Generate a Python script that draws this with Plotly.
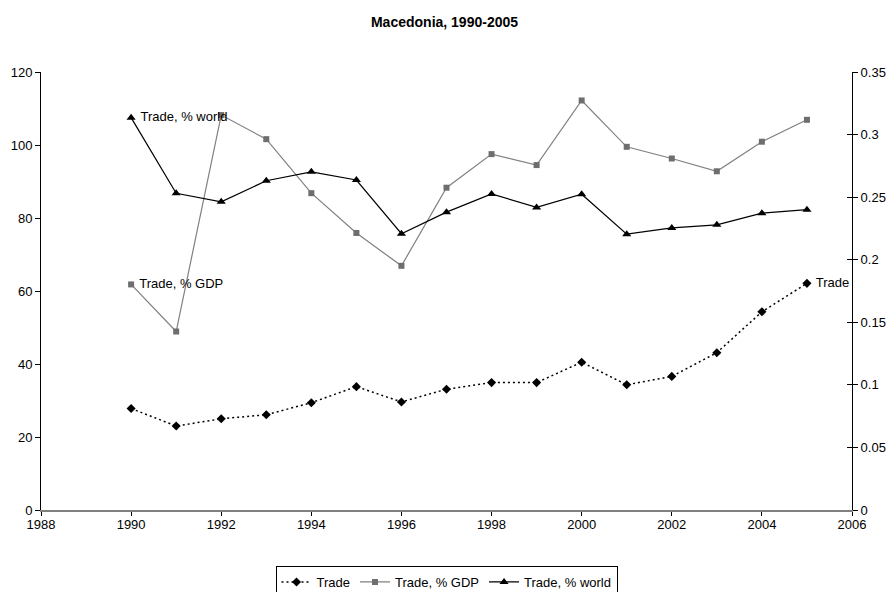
import plotly.graph_objects as go

# Macedonia trade indicators, 1990-2005
years = list(range(1990, 2006))
trade = [27.8, 23.0, 25.0, 26.1, 29.4, 33.8, 29.6, 33.1, 34.9, 34.9,
         40.5, 34.3, 36.6, 43.1, 54.3, 62.1]
trade_gdp = [61.8, 48.9, 108.2, 101.6, 86.8, 75.9, 66.9, 88.3, 97.5, 94.5,
             112.2, 99.5, 96.3, 92.8, 100.9, 106.9]
trade_world = [0.3135, 0.2531, 0.2463, 0.2631, 0.2702, 0.2637, 0.2208, 0.2380,
               0.2526, 0.2418, 0.2523, 0.2204, 0.2254, 0.2279, 0.2372, 0.2400]

x_ticks = list(range(1988, 2007, 2))
left_ticks = list(range(0, 121, 20))
right_ticks = [0, 0.05, 0.1, 0.15, 0.2, 0.25, 0.3, 0.35]
right_tick_text = ["0", "0.05", "0.1", "0.15", "0.2", "0.25", "0.3", "0.35"]

FONT = "Liberation Sans, Arial, sans-serif"


def end_label(values, name, at):
    labels = [""] * len(values)
    labels[at] = " " + name
    return labels


fig = go.Figure()

fig.add_trace(go.Scatter(
    x=years, y=trade, name="Trade", mode="lines+markers+text",
    line=dict(color="black", width=1.5, dash="2px,3px"),
    marker=dict(symbol="diamond", size=7, color="black"),
    text=end_label(trade, "Trade", -1), textposition="middle right",
    textfont=dict(family=FONT, size=13, color="black"),
    yaxis="y", cliponaxis=False,
))

fig.add_trace(go.Scatter(
    x=years, y=trade_gdp, name="Trade, % GDP", mode="lines+markers+text",
    line=dict(color="#808080", width=1.2),
    marker=dict(symbol="square", size=6, color="#6e6e6e"),
    text=end_label(trade_gdp, "Trade, % GDP", 0), textposition="middle right",
    textfont=dict(family=FONT, size=13, color="black"),
    yaxis="y", cliponaxis=False,
))

fig.add_trace(go.Scatter(
    x=years, y=trade_world, name="Trade, % world", mode="lines+markers+text",
    line=dict(color="black", width=1.2),
    marker=dict(symbol="triangle-up", size=8, color="black"),
    text=end_label(trade_world, "Trade, % world", 0), textposition="middle right",
    textfont=dict(family=FONT, size=13, color="black"),
    yaxis="y2", cliponaxis=False,
))

# empty trace that carries the inner half of the right-hand tick marks
fig.add_trace(go.Scatter(x=[None], y=[None], yaxis="y3", showlegend=False,
                         hoverinfo="skip"))

fig.update_layout(
    width=889, height=592,
    margin=dict(l=41, r=37, t=72, b=82, autoexpand=False),
    paper_bgcolor="white", plot_bgcolor="white",
    font=dict(family=FONT, size=13, color="black"),
    title=dict(text="<b>Macedonia, 1990-2005</b>", x=0.5, xanchor="center",
               y=1 - 22 / 592, yanchor="middle",
               font=dict(family=FONT, size=14, color="black")),
    showlegend=True,
    legend=dict(orientation="h", x=0.5, xanchor="center",
                yref="container", y=(592 - 566) / 592, yanchor="top",
                bordercolor="black", borderwidth=1, bgcolor="white",
                font=dict(family=FONT, size=13, color="black"),
                tracegroupgap=0),
    xaxis=dict(range=[1988, 2006], tickvals=x_ticks, showgrid=False, zeroline=False,
               showline=True, linecolor="#808080", linewidth=2,
               ticks="outside", ticklen=4, tickcolor="black",
               ticklabelstandoff=-3),
    yaxis=dict(range=[0, 120], tickvals=left_ticks, showgrid=False, zeroline=False,
               showline=True, linecolor="black", linewidth=1,
               ticks="outside", ticklen=5, tickcolor="black"),
    yaxis2=dict(range=[0, 0.35], tickvals=right_ticks, ticktext=right_tick_text,
                overlaying="y", side="right", showgrid=False, zeroline=False,
                showline=True, linecolor="black", linewidth=1,
                ticks="outside", ticklen=5, tickcolor="black"),
    yaxis3=dict(range=[0, 0.35], tickvals=right_ticks, overlaying="y", side="right",
                anchor="x", showgrid=False, zeroline=False, showline=False,
                showticklabels=False, ticks="inside", ticklen=5, tickcolor="black"),
)

fig.write_html("out.html")
